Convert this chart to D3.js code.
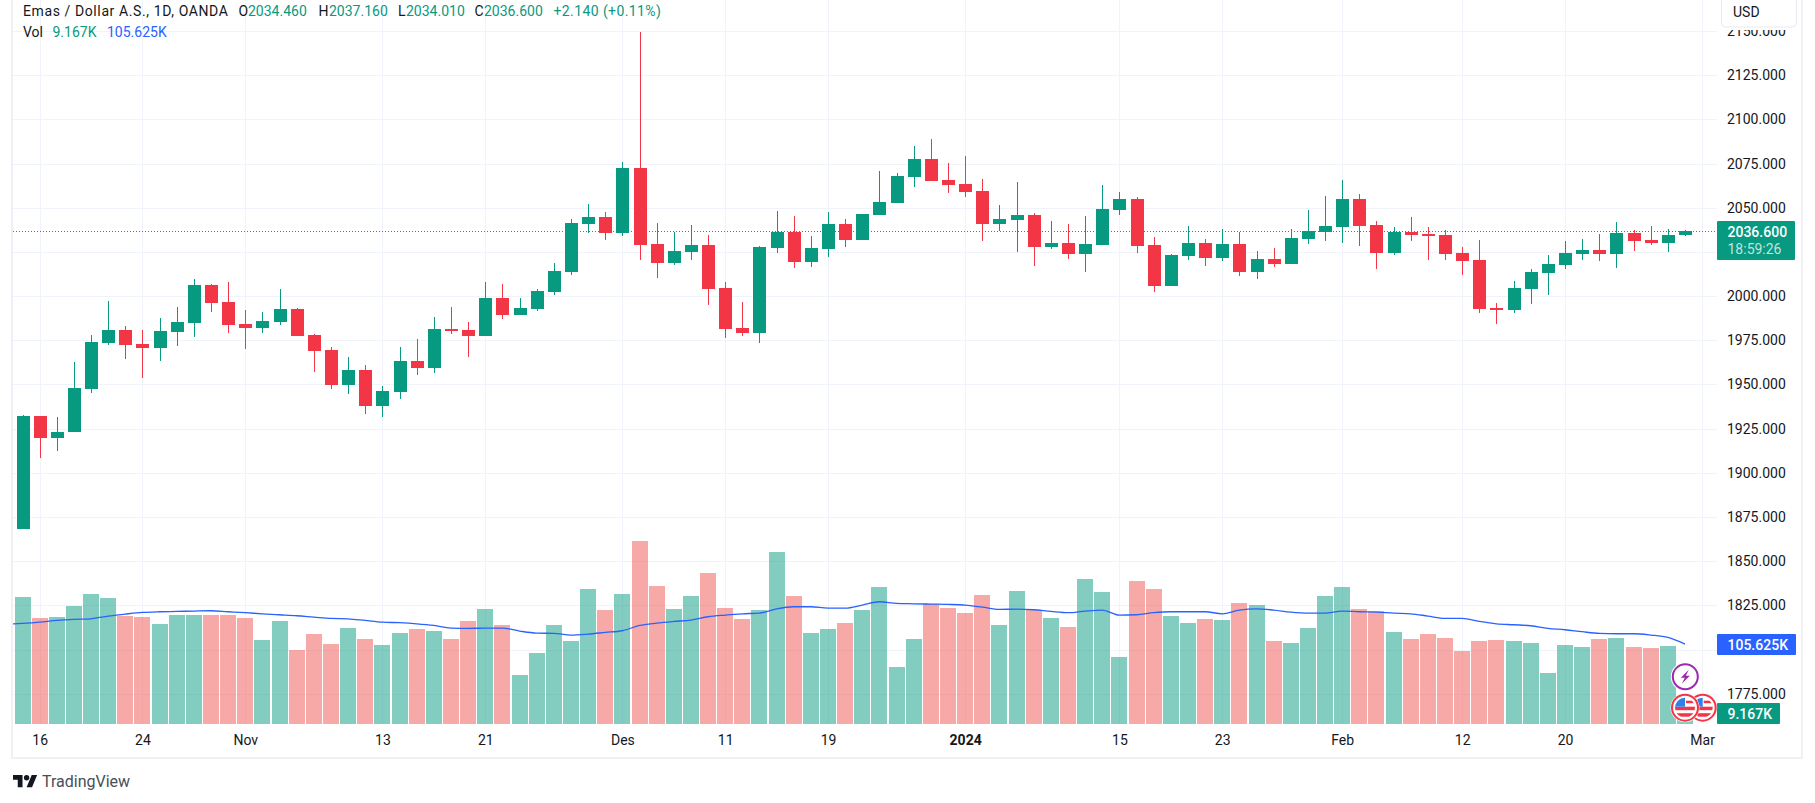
<!DOCTYPE html>
<html>
<head>
<meta charset="utf-8">
<script src="https://cdn.jsdelivr.net/npm/d3@7"></script>
<style>
  html, body { margin: 0; padding: 0; background: #fff; overflow: hidden; }
  svg { display: block; }
  text { font-family: Roboto, sans-serif; }
</style>
</head>
<body>
<div id="chart"></div>
<script>
// Candles, one value per trading day (13 Oct 2023 - 29 Feb 2024)
const opens = [1868.4,1932.1,1919.9,1923,1947.3,1973.5,1980.9,1972.9,1970.7,1979.7,1984.8,2006.2,1996.7,1984.2,1982.1,1985.4,1992.8,1978,1969.6,1949.7,1958.3,1937.8,1945.8,1963.3,1959.2,1981.5,1980.9,1977.4,1999,1989.3,1992.8,2002.3,2013.7,2041,2044.9,2035.7,2072.5,2029.4,2018.7,2025,2029.1,2004.7,1982.1,1979.1,2027.3,2036.5,2019.3,2026.7,2041,2031.8,2046,2052.8,2067.5,2077.6,2065.7,2063.6,2059.5,2041,2043.1,2046,2027.9,2030,2023.8,2029.1,2048.8,2055,2029.1,2005.9,2022.8,2030,2021.6,2029.4,2013.7,2021.1,2018.1,2032.4,2036.3,2039.2,2055,2040.4,2024.4,2036.3,2035.3,2034.7,2024.4,2020.5,1993.4,1992.2,2004.1,2013.1,2017.7,2023.8,2026.1,2023.8,2035.7,2031.8,2030,2034.46];
const highs = [1932.7,1932.1,1931.6,1962.8,1978,1997.3,1983,1980.9,1987.7,1994,2009.8,2006.8,2008,1992.2,1991,2004.1,1993.4,1978.5,1971.1,1965.5,1961,1949.1,1971.1,1975.8,1988.3,1994,1985.4,2008,2006.8,1999,2004.1,2018.7,2043.7,2052.3,2047.6,2076.1,2149.6,2041.3,2036.5,2040.4,2034.7,2008,1996.7,2028.5,2048.2,2045.4,2034.1,2047.6,2043.7,2046.6,2070.8,2069.8,2085,2088.9,2075.5,2079.4,2066.3,2051.7,2064.7,2047.2,2042.5,2041,2045.4,2063,2058.9,2056.2,2033.5,2024,2039.8,2032.4,2038,2036.5,2025.5,2027.3,2038,2048.8,2056.7,2065.7,2057.9,2042.5,2039.2,2044.9,2039.2,2037.4,2027.9,2031.8,1996.1,2008.6,2015.4,2023.4,2031.2,2032.4,2035.3,2041.9,2037.4,2039.8,2038,2037.16];
const lows = [1868.4,1908.3,1912.4,1923,1945.4,1972.3,1964.5,1953.6,1963.3,1971.7,1976.8,1991,1979.1,1970.2,1979.1,1983.6,1977.4,1957.1,1947.3,1944.6,1933.3,1931.6,1941.7,1955.3,1956.5,1978.5,1965.5,1977.4,1987.1,1989.3,1991.6,2000.6,2011.9,2035.7,2031.8,2034.1,2020.5,2010.3,2017.7,2020.5,1994.9,1976.4,1977.4,1973.5,2024.4,2016,2016.6,2022.2,2027.9,2031.8,2046,2052.8,2061.8,2065.1,2058.5,2056.2,2031.2,2036.9,2025,2017.2,2026.7,2021.1,2013.7,2029.1,2046,2024.4,2002.3,2005.9,2020.5,2017.2,2019.9,2011.5,2009.8,2016.6,2018.1,2029.4,2031.2,2030,2028.5,2015.4,2023.4,2031.2,2020.5,2020.5,2011.9,1990.6,1984.2,1990.6,1995.5,2000.6,2015.4,2020.5,2019.9,2016,2025.5,2029.1,2025,2034.01];
const closes = [1932.1,1919.9,1923.2,1947.9,1974.1,1980.9,1972.3,1970.7,1980.3,1985.4,2006.2,1996.1,1983.6,1982.1,1986,1992.8,1977.4,1969,1949.7,1958.3,1937.8,1946.4,1963.3,1959.2,1981.5,1980.3,1977.4,1999,1989.3,1993.4,2002.9,2014.2,2041.3,2044.9,2035.7,2072.5,2029.1,2018.7,2025.5,2029.1,2004.1,1981.5,1979.1,2027.9,2036.5,2019.3,2027.3,2041,2031.8,2046.6,2053.2,2068.1,2077.6,2065.1,2063,2058.9,2041,2043.7,2046,2027.9,2030,2023.8,2029.4,2049.3,2055,2028.5,2005.9,2023.4,2030,2021.6,2029.4,2013.7,2021.1,2018.1,2033,2036.9,2039.8,2055,2039.8,2024.4,2036.3,2034.7,2034.1,2023.8,2019.9,1992.8,1992.2,2004.7,2013.7,2018.1,2024.4,2026.1,2023.8,2035.7,2031.2,2030,2034.7,2036.6];

// Volume in thousands
const volumes = [167.6,139.9,141.2,155.8,171.6,166.3,142.6,141.2,132,143.9,143.9,143.9,143.9,139.9,110.9,136,97.7,118.8,105.6,126.7,112.2,104.3,120.1,125.4,122.8,112.2,136,151.8,130.7,64.7,93.7,130.7,109.6,178.2,150.5,171.6,241.6,182.2,151.8,169,199.3,153.1,138.6,150.5,227,169,120.1,125.4,133.3,150.5,180.8,75.2,112.2,158.4,153.1,146.5,170.3,130.7,175.6,150.5,139.9,128,191.4,174.2,88.4,188.8,178.2,142.6,133.3,138.6,137.3,159.7,157.1,109.6,106.9,126.7,169,180.8,151.8,149.2,121.4,112.2,118.8,113.5,96.4,109.6,110.9,109.6,106.9,67.3,104.3,101.6,112.2,113.5,101.6,100.3,103,9.167];

// Volume moving average, first value belongs to the day before the first candle
const volumeMA = [131.6,132.9,134.6,136.8,138.2,139,142.6,145.2,147.4,148.3,148.7,149.2,149.6,148.3,147,145.6,144.3,143,141.2,139.5,139,136.8,134.6,133.8,132.4,130.2,126.7,126.3,126.7,126.7,122.8,120.1,119.7,117.5,118.8,121,123.2,130.2,133.3,135.5,137.3,141.7,143.9,145.6,146.5,152.2,154.9,154.9,153.1,153.1,157.1,161.5,159.3,158.8,158.4,158,157.1,154.4,151.4,151.8,150.9,148.7,147,149.2,150.5,143.9,144.3,147,148.3,148.3,148.3,145.6,150.5,152.2,150.5,147.8,146.5,146.5,149.2,148.3,147.8,146.5,145.6,142.6,139.5,139.5,135.5,132.4,131.1,129.8,126.3,124.5,121.9,119.7,119.2,119.2,117.5,114.4,105.625];

const priceGrid = [2150,2125,2100,2075,2050,2025,2000,1975,1950,1925,1900,1875,1850,1825,1800,1775];
// 2025 sits behind the last price label, so it gets a grid line only
const priceTicks = [2150,2125,2100,2075,2050,2000,1975,1950,1925,1900,1875,1850,1825,1800,1775];
const timeTickIndex = [1,7,13,21,27,35,41,47,55,64,70,77,84,90,98];
const timeTickLabels = ["16","24","Nov","13","21","Des","11","19","2024","15","23","Feb","12","20","Mar"];
const lastClose = 2036.6;

// Chart dimensions
const width = 1815;
const height = 803;
const plot = { left: 13, right: 1717, bottom: 724 };
const teal = "#089981";
const red = "#f23645";
const volumeRed = "#ef5350";
const blue = "#2962ff";
const grid = "#f0f3fa";
const textColor = "#131722";

const xScale = d3.scaleLinear().domain([0, 97]).range([22.5, 1685]);
const priceScale = d3.scaleLinear().domain([1775, 2150]).range([693.8, 31]);
const volumeScale = d3.scaleLinear().domain([0, 250]).range([plot.bottom, 534.75]);

const isUp = i => closes[i] >= opens[i];
const days = d3.range(closes.length);

const svg = d3.select("#chart").append("svg")
    .attr("width", width)
    .attr("height", height)
    .style("background", "#fff");

svg.append("clipPath").attr("id", "plot-clip")
    .append("rect")
    .attr("x", plot.left).attr("y", 0)
    .attr("width", plot.right - plot.left).attr("height", plot.bottom);

// Frame
const frame = svg.append("g").attr("fill", "#f0f0f6").attr("shape-rendering", "crispEdges");
frame.append("rect").attr("x", 11).attr("y", 0).attr("width", 2).attr("height", 759);
frame.append("rect").attr("x", 11).attr("y", 757).attr("width", 1792).attr("height", 2);
frame.append("rect").attr("x", 1801).attr("y", 0).attr("width", 2).attr("height", 759);

// Grid
svg.append("g").selectAll("line")
    .data(priceGrid)
    .enter().append("line")
    .attr("x1", plot.left).attr("x2", plot.right)
    .attr("y1", d => Math.round(priceScale(d)) + 0.5)
    .attr("y2", d => Math.round(priceScale(d)) + 0.5)
    .attr("stroke", grid);

svg.append("g").selectAll("line")
    .data(timeTickIndex)
    .enter().append("line")
    .attr("x1", d => Math.round(xScale(d)) + 0.5)
    .attr("x2", d => Math.round(xScale(d)) + 0.5)
    .attr("y1", 0).attr("y2", plot.bottom)
    .attr("stroke", grid);

// Volume bars
svg.append("g").attr("clip-path", "url(#plot-clip)").attr("shape-rendering", "crispEdges")
    .selectAll("rect")
    .data(days)
    .enter().append("rect")
    .attr("x", i => Math.round(xScale(i) - 8))
    .attr("width", 16)
    .attr("y", i => volumeScale(volumes[i]))
    .attr("height", i => plot.bottom - volumeScale(volumes[i]))
    .attr("fill", i => isUp(i) ? teal : volumeRed)
    .attr("fill-opacity", 0.5);

// Volume MA
const maLine = d3.line()
    .x((d, i) => xScale(i - 1))
    .y(d => volumeScale(d))
    .curve(d3.curveMonotoneX);

svg.append("path")
    .attr("clip-path", "url(#plot-clip)")
    .attr("d", maLine(volumeMA))
    .attr("fill", "none")
    .attr("stroke", blue)
    .attr("stroke-width", 1.3);

// Last price line
svg.append("line")
    .attr("x1", plot.left).attr("x2", plot.right)
    .attr("y1", Math.round(priceScale(lastClose)) + 0.5)
    .attr("y2", Math.round(priceScale(lastClose)) + 0.5)
    .attr("stroke", teal)
    .attr("stroke-dasharray", "1 2");

// Candles
const candles = svg.append("g").attr("shape-rendering", "crispEdges");

candles.selectAll(".wick")
    .data(days)
    .enter().append("rect")
    .attr("class", "wick")
    .attr("x", i => Math.round(xScale(i)))
    .attr("width", 1)
    .attr("y", i => priceScale(highs[i]))
    .attr("height", i => priceScale(lows[i]) - priceScale(highs[i]))
    .attr("fill", i => isUp(i) ? teal : red);

candles.selectAll(".body")
    .data(days)
    .enter().append("rect")
    .attr("class", "body")
    .attr("x", i => Math.round(xScale(i)) - 6)
    .attr("width", 13)
    .attr("y", i => priceScale(Math.max(opens[i], closes[i])))
    .attr("height", i => Math.abs(priceScale(opens[i]) - priceScale(closes[i])))
    .attr("fill", i => isUp(i) ? teal : red);

// Axes
const priceAxis = svg.append("g")
    .attr("transform", `translate(${plot.right}, 0)`)
    .call(d3.axisRight(priceScale).tickValues(priceTicks).tickFormat(d3.format(".3f")).tickSize(0).tickPadding(10));
priceAxis.select(".domain").remove();
priceAxis.selectAll("text")
    .style("font-size", "14px")
    .style("font-family", "Roboto, sans-serif")
    .attr("fill", textColor);

const timeAxis = svg.append("g")
    .attr("transform", `translate(0, ${plot.bottom})`)
    .call(d3.axisBottom(xScale).tickValues(timeTickIndex).tickFormat((d, i) => timeTickLabels[i]).tickSize(0).tickPadding(11));
timeAxis.select(".domain").remove();
timeAxis.selectAll("text")
    .style("font-size", "14px")
    .style("font-family", "Roboto, sans-serif")
    .style("font-weight", (d, i) => timeTickLabels[i] === "2024" ? "700" : "400")
    .attr("fill", textColor);

// USD box, covers most of the top price label
svg.append("rect")
    .attr("x", plot.right + 1).attr("y", 0).attr("width", 82).attr("height", 30)
    .attr("fill", "#fff");
svg.append("rect")
    .attr("x", 1721.5).attr("y", -6).attr("width", 75).attr("height", 33).attr("rx", 4)
    .attr("fill", "#fff").attr("stroke", "#e8eaf1");
svg.append("text").attr("x", 1733).attr("y", 17).attr("font-size", 14).attr("fill", textColor).text("USD");

// Price and volume labels on the axis
function axisLabel(y, w, h, color) {
    svg.append("rect")
        .attr("x", plot.right).attr("y", y).attr("width", w).attr("height", h).attr("rx", 1)
        .attr("fill", color);
}
axisLabel(221, 78, 39, teal);
svg.append("text").attr("x", 1727.5).attr("y", 236.5).attr("font-size", 14).attr("font-weight", 500).attr("fill", "#fff").text("2036.600");
svg.append("text").attr("x", 1727.5).attr("y", 254).attr("font-size", 14).attr("fill", "#fff").attr("fill-opacity", 0.75).text("18:59:26");

axisLabel(634, 79, 21, blue);
svg.append("text").attr("x", 1727.5).attr("y", 649.5).attr("font-size", 14).attr("font-weight", 500).attr("fill", "#fff").text("105.625K");

axisLabel(703, 63, 21, teal);
svg.append("text").attr("x", 1727.5).attr("y", 718.5).attr("font-size", 14).attr("font-weight", 500).attr("fill", "#fff").text("9.167K");

// Legend
function legendText(x, y, str, color, spacing) {
    svg.append("text").attr("x", x).attr("y", y).attr("font-size", 14)
        .attr("letter-spacing", spacing || 0).attr("fill", color).text(str);
}
legendText(23, 16, "Emas / Dollar A.S., 1D, OANDA", textColor, 0.6);
[["O", "2034.460", 238.5, 248], ["H", "2037.160", 318.5, 329], ["L", "2034.010", 398, 406], ["C", "2036.600", 474.5, 484]]
    .forEach(d => {
        legendText(d[2], 16, d[0], textColor);
        legendText(d[3], 16, d[1], teal);
    });
legendText(553.5, 16, "+2.140 (+0.11%)", teal, 0.4);
legendText(23, 37, "Vol", textColor);
legendText(52.5, 37, "9.167K", teal);
legendText(107, 37, "105.625K", blue);

// Event markers at the end of the last candle
function flag(cx, cy, id) {
    const g = svg.append("g").attr("transform", `translate(${cx}, ${cy})`);
    g.append("clipPath").attr("id", id).append("circle").attr("r", 10);
    g.append("circle").attr("r", 14.5).attr("fill", "#fff");
    g.append("circle").attr("r", 13).attr("fill", "#fff").attr("stroke", red).attr("stroke-width", 2);
    const inner = g.append("g").attr("clip-path", `url(#${id})`);
    inner.append("rect").attr("x", -11).attr("y", -1).attr("width", 22).attr("height", 3.5).attr("fill", red);
    inner.append("rect").attr("x", -11).attr("y", 5.5).attr("width", 22).attr("height", 3.5).attr("fill", red);
    inner.append("rect").attr("x", -11).attr("y", -11).attr("width", 11).attr("height", 10).attr("fill", "#2f80ed");
    inner.append("rect").attr("x", 1).attr("y", -7).attr("width", 11).attr("height", 2.5).attr("fill", red);
}
flag(1702.7, 707.7, "flag-b");
flag(1685, 707.7, "flag-a");

const bolt = svg.append("g").attr("transform", "translate(1685.3, 676.7)");
bolt.append("circle").attr("r", 14.5).attr("fill", "#fff");
bolt.append("circle").attr("r", 12.5).attr("fill", "#fff").attr("stroke", "#9c27b0").attr("stroke-width", 2);
bolt.append("path").attr("d", "M3.5 -7 L-4.5 1 L-0.5 1 L-3.5 7 L4.5 -1 L0.5 -1 Z").attr("fill", "#9c27b0");

// TradingView logo
const logo = svg.append("g").attr("transform", "translate(13, 772.3) scale(0.68)").attr("fill", textColor);
logo.append("path").attr("d", "M14 22H7V11H0V4h14v18zM28 22h-8l7.5-18h8L28 22z");
logo.append("circle").attr("cx", 20).attr("cy", 8).attr("r", 4);
svg.append("text").attr("x", 42).attr("y", 787).attr("font-size", 16).attr("fill", "#4a4e59").text("TradingView");
</script>
</body>
</html>
